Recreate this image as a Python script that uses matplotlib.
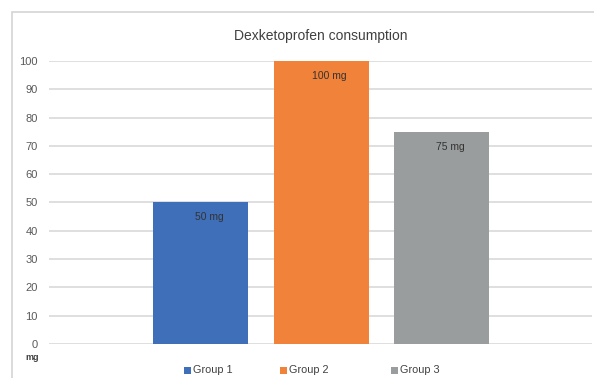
import matplotlib
matplotlib.use("Agg")
import matplotlib.pyplot as plt
from matplotlib.patches import Rectangle

plt.rcParams['font.family'] = ['Liberation Sans', 'DejaVu Sans']

# dados do grafico
grupos = ['Group 1', 'Group 2', 'Group 3']
consumo = [50, 100, 75]
cores = ['#3f6fb9', '#f08239', '#9a9d9d']
ticks_y = [0, 10, 20, 30, 40, 50, 60, 70, 80, 90, 100]

fig = plt.figure(figsize=(5.94, 3.78), dpi=100)

# moldura do grafico (cortada na direita e embaixo)
fig.patches.append(Rectangle((12 / 594, -0.1), 1.2, 1 - 12 / 378 + 0.1,
                             transform=fig.transFigure, fill=False,
                             edgecolor='#d4d4d4', linewidth=1.2))

ax = fig.add_axes([49 / 594, 1 - 344 / 378, (592 - 49) / 594, (344 - 61) / 378])

posicoes = [-1, 0, 1]
barras = ax.bar(posicoes, consumo, width=0.79, color=cores, zorder=3)
for b, v in zip(barras, consumo):
    ax.text(b.get_x() + b.get_width() / 2 + 0.07, v - 5.3, f'{v} mg',
            ha='center', va='center', fontsize=7.5, color='#333333', zorder=4)

ax.set_xlim(-2.26, 2.25)
ax.set_ylim(0, 100)
ax.set_yticks(ticks_y)
ax.yaxis.grid(True, color='#d9d9d9', linewidth=1.2, zorder=0)
ax.set_xticks([])
for s in ax.spines.values():
    s.set_visible(False)
ax.tick_params(axis='y', length=0, pad=8, labelsize=8, labelcolor='#595959')

fig.text(32 / 594, 1 - 357 / 378, 'mg', fontsize=6.5, fontweight='bold',
         color='#404040', ha='center', va='center')
fig.text(321 / 594, 1 - 36 / 378, 'Dexketoprofen consumption', fontsize=10,
         color='#404040', ha='center', va='center')

# legenda montada a mao, com o espacamento do Excel
leg_x = [184, 280, 391]
leg_y = 1 - 370 / 378
for g, c, x in zip(grupos, cores, leg_x):
    fig.patches.append(Rectangle((x / 594, leg_y - 3.5 / 378), 7 / 594, 7 / 378,
                                 transform=fig.transFigure, facecolor=c,
                                 edgecolor='none'))
    fig.text((x + 9) / 594, leg_y, g, fontsize=7.8, color='#404040',
             ha='left', va='center')

plt.savefig('out.png', dpi=100)
